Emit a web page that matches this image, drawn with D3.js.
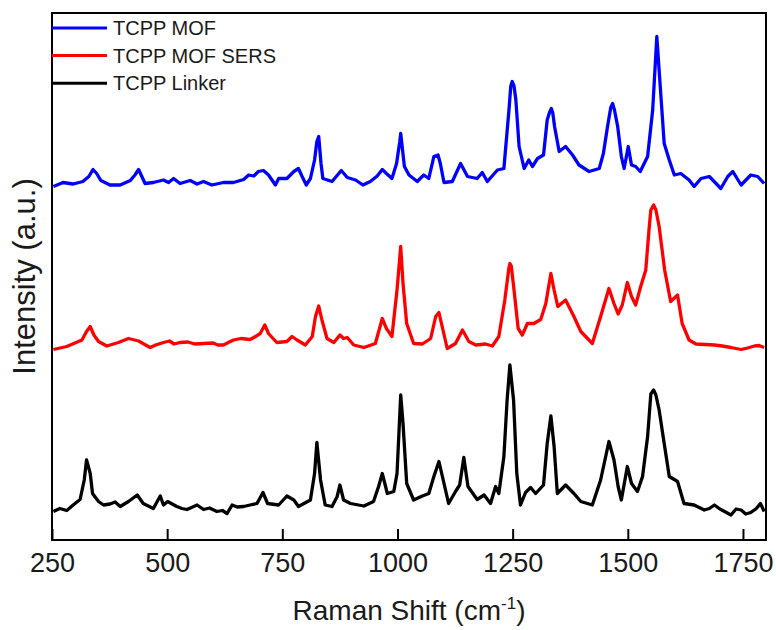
<!DOCTYPE html>
<html>
<head>
<meta charset="utf-8">
<script src="https://cdn.jsdelivr.net/npm/d3@7/dist/d3.min.js"></script>
<style>
  html, body { margin: 0; padding: 0; background: #fff; }
  svg { display: block; }
  text { font-family: "Liberation Sans", Arial, sans-serif; fill: #1a1a1a; }
</style>
</head>
<body>
<svg id="chart" width="776" height="630"></svg>
<script>
// Raman shift (cm-1) and intensity (a.u., stacked with offsets) for each spectrum
const mofShift = [253,274,296,317,330,339,347,356,376,398,420,430,438,445,452,470,492,503,514,528,550,565,579,597,622,644,666,677,688,698,709,720,735,742,760,775,785,793,802,811,820,825,829,834,838,858,878,891,909,925,941,956,967,976,988,998,1005,1007,1015,1025,1043,1057,1068,1079,1088,1093,1101,1119,1137,1152,1173,1184,1195,1217,1231,1242,1246,1249,1253,1257,1264,1275,1285,1293,1304,1317,1325,1330,1334,1337,1341,1351,1365,1380,1394,1416,1438,1447,1456,1463,1467,1471,1478,1486,1492,1501,1508,1517,1527,1543,1554,1563,1570,1579,1590,1601,1615,1633,1644,1659,1677,1702,1717,1728,1746,1767,1782,1796];
const mofIntensity = [70.7,71.5,71.2,71.7,72.7,74.1,73.3,71.9,71.0,71.0,71.9,73.0,74.1,72.7,71.3,71.5,72.0,71.5,72.3,71.3,71.9,71.2,71.7,71.0,71.5,71.5,72.1,73.0,72.8,73.7,73.9,73.0,71.0,72.3,72.3,73.7,74.3,72.7,71.0,72.3,76.0,79.7,80.7,75.3,72.3,71.7,73.9,72.5,72.0,71.0,71.7,72.8,74.1,73.3,72.3,75.3,79.7,81.3,74.7,73.0,71.7,73.0,72.3,76.7,77.0,75.3,71.5,71.7,75.3,72.7,72.3,73.5,71.7,74.0,74.3,86.0,90.8,91.7,90.8,88.0,78.7,74.3,76.0,74.7,76.3,77.0,84.0,85.5,86.3,85.5,82.7,77.7,78.7,77.0,75.0,73.7,74.3,77.3,82.7,86.5,87.3,86.0,82.7,76.7,74.3,78.7,75.0,74.7,73.7,76.7,86.0,100.7,91.3,79.3,76.0,73.0,73.3,72.0,70.7,72.3,72.7,70.3,72.7,73.7,71.0,73.0,72.7,71.3];

const sersShift = [253,282,315,325,333,341,351,369,394,416,438,463,475,492,505,515,528,545,560,579,600,610,622,635,644,660,680,690,702,712,720,738,760,771,782,800,815,822,829,836,847,862,875,883,891,905,927,952,967,976,988,999,1007,1012,1020,1035,1054,1072,1083,1090,1097,1108,1126,1141,1155,1170,1191,1206,1220,1233,1242,1244,1247,1253,1262,1271,1282,1296,1311,1322,1333,1340,1348,1365,1383,1398,1423,1441,1459,1470,1479,1488,1499,1508,1517,1528,1539,1546,1550,1556,1561,1568,1580,1593,1608,1618,1633,1648,1688,1705,1724,1746,1760,1775,1785,1796];
const sersIntensity = [38.1,38.7,40.0,41.7,42.7,41.0,39.7,38.8,39.5,40.3,39.8,38.5,39.0,39.5,39.8,39.2,39.5,39.6,39.2,39.3,39.4,39.0,39.0,39.6,40.0,40.3,40.1,40.6,41.3,43.0,41.3,39.5,39.7,40.7,40.0,39.0,40.7,44.7,46.8,44.0,40.3,39.5,41.0,40.3,40.5,39.0,38.5,39.3,44.3,42.3,40.7,50.0,58.7,51.3,43.3,39.3,39.2,40.3,44.7,45.5,42.7,38.3,39.3,42.0,39.7,39.0,39.2,38.8,40.7,48.0,54.5,55.3,54.8,50.0,42.3,41.0,43.3,43.3,44.1,47.3,53.3,50.0,46.7,48.0,44.7,41.7,39.3,44.7,50.3,47.3,45.2,47.0,51.5,48.7,47.0,50.7,54.0,62.0,66.0,67.0,66.0,62.7,54.0,47.7,49.0,43.3,40.0,39.2,39.0,38.8,38.5,38.1,38.4,38.8,38.9,38.5];

const linkerShift = [253,267,282,296,311,320,325,333,338,351,362,376,387,398,416,435,448,470,485,492,501,521,532,543,565,579,592,608,620,630,641,652,666,680,695,708,718,742,760,775,785,811,820,825,833,843,858,869,875,883,898,927,948,959,967,978,992,999,1007,1012,1020,1035,1054,1068,1079,1090,1101,1111,1126,1135,1144,1153,1173,1188,1202,1213,1220,1231,1238,1244,1252,1259,1267,1278,1289,1300,1317,1325,1333,1340,1347,1365,1383,1398,1423,1441,1459,1470,1479,1486,1499,1508,1521,1532,1543,1550,1556,1561,1568,1579,1590,1608,1622,1644,1655,1666,1677,1688,1700,1712,1724,1735,1746,1756,1767,1778,1788,1796];
const linkerIntensity = [5.7,6.3,5.9,7.0,8.1,12.0,16.0,13.3,9.3,7.7,7.0,7.2,7.6,6.7,7.7,9.0,7.3,6.3,8.8,7.0,7.7,6.7,6.3,6.1,7.0,6.1,6.4,5.7,5.9,5.3,7.0,6.6,6.7,7.0,7.3,9.5,7.3,7.0,8.8,8.0,6.7,8.0,13.3,19.5,12.0,7.0,6.7,8.7,11.0,8.0,7.3,6.8,7.7,10.7,13.3,9.3,9.7,13.3,29.0,23.3,11.3,8.0,8.8,9.3,12.7,15.7,11.3,7.3,9.7,11.0,16.5,10.7,8.1,9.0,7.3,10.7,9.3,16.7,28.0,35.0,28.0,13.3,7.0,9.5,10.5,9.3,11.0,19.3,24.8,18.7,9.3,11.0,9.3,7.7,7.0,12.0,19.7,16.0,10.7,8.0,14.7,11.3,9.7,12.7,20.7,29.2,30.0,29.0,26.0,19.3,12.7,11.7,7.3,7.0,6.5,6.0,6.3,7.0,6.2,5.6,5.0,6.2,6.0,5.2,5.5,6.2,7.3,5.7];

const seriesNames = ["TCPP MOF", "TCPP MOF SERS", "TCPP Linker"];
const seriesColors = ["#0000ff", "#ff0000", "#000000"];
const xTicks = [250, 500, 750, 1000, 1250, 1500, 1750];

const series = [
  { name: seriesNames[0], color: seriesColors[0], points: d3.zip(mofShift, mofIntensity) },
  { name: seriesNames[1], color: seriesColors[1], points: d3.zip(sersShift, sersIntensity) },
  { name: seriesNames[2], color: seriesColors[2], points: d3.zip(linkerShift, linkerIntensity) }
];

const margin = { left: 52, right: 10, top: 13, bottom: 90 };
const width = 776, height = 630;
const plotW = width - margin.left - margin.right;   // 714
const plotH = height - margin.top - margin.bottom;  // 527

const svg = d3.select("#chart");

const x = d3.scaleLinear().domain([250, 1800]).range([margin.left, margin.left + plotW]);
const y = d3.scaleLinear().domain([0, 105.4]).range([margin.top + plotH, margin.top]);

// spectra
const line = d3.line().x(d => x(d[0])).y(d => y(d[1])).curve(d3.curveLinear);
svg.append("g").selectAll("path")
  .data(series)
  .join("path")
  .attr("d", d => line(d.points))
  .attr("fill", "none")
  .attr("stroke", d => d.color)
  .attr("stroke-width", 3.3)
  .attr("stroke-linejoin", "round");

// bottom axis with inward ticks
const xAxis = d3.axisBottom(x)
  .tickValues(xTicks)
  .tickSizeInner(-11)
  .tickSizeOuter(0)
  .tickPadding(13)
  .tickFormat(d3.format("d"));

const gx = svg.append("g")
  .attr("transform", `translate(0,${margin.top + plotH})`)
  .call(xAxis);
gx.select(".domain").remove();
gx.selectAll(".tick line").attr("stroke", "#000").attr("stroke-width", 2);
gx.selectAll(".tick text")
  .attr("font-size", 27)
  .attr("font-family", "'Liberation Sans', Arial, sans-serif")
  .attr("fill", "#1a1a1a");

// plot frame
svg.append("rect")
  .attr("x", margin.left)
  .attr("y", margin.top)
  .attr("width", plotW)
  .attr("height", plotH)
  .attr("fill", "none")
  .attr("stroke", "#000")
  .attr("stroke-width", 2);

// legend
const legend = svg.append("g").selectAll("g")
  .data(series)
  .join("g")
  .attr("transform", (d, i) => `translate(${margin.left},${28 + i * 27.6})`);
legend.append("line")
  .attr("x1", 0).attr("x2", 55)
  .attr("y1", 0).attr("y2", 0)
  .attr("stroke", d => d.color)
  .attr("stroke-width", 3);
legend.append("text")
  .attr("x", 61)
  .attr("y", 7)
  .attr("font-size", 20)
  .text(d => d.name);

// axis titles
const xt = svg.append("text")
  .attr("x", margin.left + plotW / 2)
  .attr("y", 620)
  .attr("text-anchor", "middle")
  .attr("font-size", 28);
xt.append("tspan").text("Raman Shift (cm");
xt.append("tspan").attr("font-size", 17).attr("dy", -11).text("-1");
xt.append("tspan").attr("dy", 11).text(")");

svg.append("text")
  .attr("transform", `translate(35,${margin.top + plotH / 2}) rotate(-90)`)
  .attr("text-anchor", "middle")
  .attr("font-size", 31)
  .text("Intensity (a.u.)");
</script>
</body>
</html>
